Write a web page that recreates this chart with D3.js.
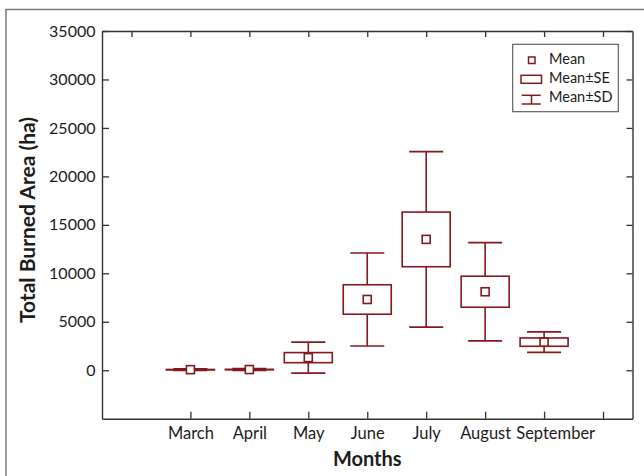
<!DOCTYPE html>
<html>
<head>
<meta charset="utf-8">
<script src="https://cdn.jsdelivr.net/npm/d3@7"></script>
<style>
  html, body { margin: 0; padding: 0; background: #fff; }
  svg { display: block; font-family: Lato, "Open Sans", sans-serif; }
</style>
</head>
<body>
<svg id="chart" width="644" height="476"></svg>
<script>
// Monthly burned area: mean, standard error and standard deviation (ha)
const months = ["March", "April", "May", "June", "July", "August", "September"];
const meanValues = [60, 70, 1300, 7300, 13500, 8100, 2900];
const seValues = [20, 25, 520, 1520, 2820, 1600, 430];
const sdValues = [90, 100, 1600, 4800, 9050, 5070, 1060];
const yTickValues = [0, 5000, 10000, 15000, 20000, 25000, 30000, 35000];
const legendLabels = ["Mean", "Mean\u00B1SE", "Mean\u00B1SD"];

const markColor = "#84181d";
const axisColor = "#333";
const textColor = "#1c1c1c";

const svg = d3.select("#chart");

// Outer frame (only its top and left edges fall inside the page)
svg.append("rect")
  .attr("x", 6).attr("y", 9.5)
  .attr("width", 700).attr("height", 520)
  .attr("fill", "none").attr("stroke", "#7a7a7a").attr("stroke-width", 1.5);

const plot = { left: 102, right: 632.5, top: 31, bottom: 418.7 };

// x positions: slot i of 9 slots, categories centred at i + 1.5
const x = d3.scaleLinear().domain([0, 9]).range([plot.left, plot.right]);
const y = d3.scaleLinear().domain([-5000, 35000]).range([plot.bottom, plot.top]);
const xPos = i => x(i + 1.5);

const boxHalf = 24;
const capHalf = 17;
const meanSize = 8;

// Axes with inward ticks on all four sides
const gLeft = svg.append("g").attr("transform", `translate(${plot.left},0)`)
  .call(d3.axisLeft(y).tickValues(yTickValues).tickSizeInner(-7).tickSizeOuter(0).tickPadding(6.5)
    .tickFormat(d3.format("d")));
const gRight = svg.append("g").attr("transform", `translate(${plot.right},0)`)
  .call(d3.axisRight(y).tickValues(yTickValues).tickSizeInner(-6).tickSizeOuter(0).tickFormat(""));
const topTicks = d3.range(0, 9).map(i => i + 0.5);
const gTop = svg.append("g").attr("transform", `translate(0,${plot.top})`)
  .call(d3.axisTop(x).tickValues(topTicks).tickSizeInner(-6).tickSizeOuter(0).tickFormat(""));
const bottomTicks = d3.range(1, 9).map(i => i + 0.5);
const gBottom = svg.append("g").attr("transform", `translate(0,${plot.bottom})`)
  .call(d3.axisBottom(x).tickValues(bottomTicks).tickSizeInner(-7).tickSizeOuter(0).tickPadding(9)
    .tickFormat(d => months[Math.round(d - 1.5)] || ""));

[gLeft, gRight, gTop, gBottom].forEach(g => {
  g.select(".domain").attr("stroke", axisColor).attr("stroke-width", 1.4);
  g.selectAll(".tick line").attr("stroke", axisColor).attr("stroke-width", 1.3);
  g.selectAll("text").attr("fill", textColor).style("font-size", "16px")
    .style("font-family", "Lato, 'Open Sans', sans-serif");
});
gBottom.selectAll("text").style("font-size", "16.5px");

// Push apart category labels that would collide
let prevRight = -Infinity;
gBottom.selectAll(".tick text").each(function () {
  const t = this.textContent;
  if (!t) return;
  const b = this.getBBox();
  const tx = +this.parentNode.getAttribute("transform").match(/translate\(([-\d.]+)/)[1];
  let left = tx + b.x;
  if (left < prevRight + 5) {
    const shift = prevRight + 5 - left;
    d3.select(this).attr("dx", shift);
    left += shift;
  }
  prevRight = left + b.width;
});

// Axis titles
svg.append("text")
  .attr("x", (plot.left + plot.right) / 2).attr("y", 466)
  .attr("text-anchor", "middle").attr("fill", textColor)
  .style("font-size", "20px").style("font-weight", "bold")
  .text("Months");
svg.append("text")
  .attr("transform", "translate(34.5,220) rotate(-90)")
  .attr("text-anchor", "middle").attr("fill", textColor)
  .style("font-size", "21px").style("font-weight", "bold")
  .text("Total Burned Area (ha)");

// Boxes: mean ± SD whiskers, mean ± SE box, mean square
const marks = svg.append("g").attr("fill", "none").attr("stroke", markColor).attr("stroke-width", 1.6);
months.forEach((m, i) => {
  const cx = xPos(i);
  const mean = meanValues[i], se = seValues[i], sd = sdValues[i];
  const g = marks.append("g");
  // whisker stems
  g.append("line").attr("x1", cx).attr("x2", cx).attr("y1", y(mean + sd)).attr("y2", y(mean + se));
  g.append("line").attr("x1", cx).attr("x2", cx).attr("y1", y(mean - se)).attr("y2", y(mean - sd));
  // caps
  g.append("line").attr("x1", cx - capHalf).attr("x2", cx + capHalf).attr("y1", y(mean + sd)).attr("y2", y(mean + sd));
  g.append("line").attr("x1", cx - capHalf).attr("x2", cx + capHalf).attr("y1", y(mean - sd)).attr("y2", y(mean - sd));
  // SE box
  g.append("rect").attr("x", cx - boxHalf).attr("width", 2 * boxHalf)
    .attr("y", y(mean + se)).attr("height", Math.max(0.5, y(mean - se) - y(mean + se)))
    .attr("fill", "#fff");
  // mean marker
  g.append("rect").attr("x", cx - meanSize / 2).attr("y", y(mean) - meanSize / 2)
    .attr("width", meanSize).attr("height", meanSize).attr("fill", "#fff");
});

// Legend
const legend = svg.append("g");
legend.append("rect").attr("x", 512.7).attr("y", 44.3).attr("width", 105.6).attr("height", 67.4)
  .attr("fill", "#fff").attr("stroke", "#555").attr("stroke-width", 1.1);
const rowBase = [64.3, 83.3, 101.7];
const iconX = 531.5;
const li = legend.append("g").attr("fill", "none").attr("stroke", markColor).attr("stroke-width", 1.5);
li.append("rect").attr("x", iconX - 3).attr("y", 57).attr("width", 6.5).attr("height", 6.5).attr("fill", "#fff");
li.append("rect").attr("x", 521).attr("y", 75.3).attr("width", 20.5).attr("height", 8);
li.append("line").attr("x1", 521.7).attr("x2", 540.7).attr("y1", 95.3).attr("y2", 95.3);
li.append("line").attr("x1", 521.7).attr("x2", 540.7).attr("y1", 104).attr("y2", 104);
li.append("line").attr("x1", iconX).attr("x2", iconX).attr("y1", 95.3).attr("y2", 104);
legend.selectAll("text.lg").data(legendLabels).join("text")
  .attr("class", "lg")
  .attr("x", 549).attr("y", (d, i) => rowBase[i])
  .attr("fill", textColor).style("font-size", "14.5px")
  .text(d => d);
</script>
</body>
</html>
